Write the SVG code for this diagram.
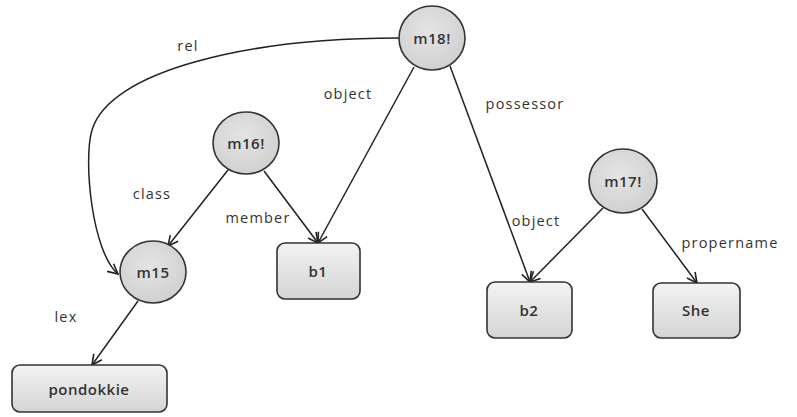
<svg xmlns="http://www.w3.org/2000/svg" width="797" height="417" viewBox="0 0 797 417">
<defs>
<radialGradient id="cg" cx="0.45" cy="0.4" r="0.65">
<stop offset="0" stop-color="#e4e4e4"/>
<stop offset="1" stop-color="#cfcfcf"/>
</radialGradient>
<linearGradient id="bg" x1="0" y1="0" x2="0" y2="1">
<stop offset="0" stop-color="#f3f3f3"/>
<stop offset="1" stop-color="#d4d4d4"/>
</linearGradient>
<marker id="arr" viewBox="0 0 12 12" refX="11" refY="6" markerWidth="12" markerHeight="12" markerUnits="userSpaceOnUse" orient="auto">
<path d="M1,1 L11,6 L1,11" fill="none" stroke="#222" stroke-width="1.6"/>
</marker>
</defs>
<style>
.n{fill:url(#cg);stroke:#333;stroke-width:1.6}
.b{fill:url(#bg);stroke:#333;stroke-width:1.6}
.t{font-family:"Open Sans","DejaVu Sans",sans-serif;font-size:15px;font-weight:600;fill:#333;text-anchor:middle;dominant-baseline:central;letter-spacing:0.5px}
.l{font-family:"Open Sans","DejaVu Sans",sans-serif;font-size:14.5px;fill:#333;text-anchor:middle;dominant-baseline:central;letter-spacing:1.2px}
.e{fill:none;stroke:#222;stroke-width:1.5;marker-end:url(#arr)}
</style>
<rect width="797" height="417" fill="#fff"/>
<g id="connectors">
<path class="e" d="M399,38 C250,38 110,70 92,130 C83,160 92,252 118,274"/>
<path class="e" d="M414,67 L318,243"/>
<path class="e" d="M450,66 L530,282"/>
<path class="e" d="M228,170 L168,246"/>
<path class="e" d="M264,171 L318,243"/>
<path class="e" d="M603,208 L530,282"/>
<path class="e" d="M642,209 L697,283"/>
<path class="e" d="M138,301 L92,365"/>
<text class="l" x="188" y="45">rel</text>
<text class="l" x="348" y="93">object</text>
<text class="l" x="525" y="103">possessor</text>
<text class="l" x="152" y="193">class</text>
<text class="l" x="258" y="217">member</text>
<text class="l" x="536" y="220">object</text>
<text class="l" x="730" y="242">propername</text>
<text class="l" x="66" y="316">lex</text>
</g>
<g id="m18"><ellipse class="n" cx="432" cy="38" rx="33" ry="32"/><text class="t" x="432" y="38">m18!</text></g>
<g id="m16"><ellipse class="n" cx="246" cy="143" rx="33" ry="31"/><text class="t" x="246" y="143">m16!</text></g>
<g id="m15"><ellipse class="n" cx="153" cy="272" rx="33" ry="31"/><text class="t" x="153" y="272">m15</text></g>
<g id="m17"><ellipse class="n" cx="623" cy="181" rx="34" ry="32"/><text class="t" x="623" y="181">m17!</text></g>
<g id="pondokkie"><rect class="b" x="12" y="365" width="155" height="47" rx="8"/><text class="t" x="89" y="389">pondokkie</text></g>
<g id="b1"><rect class="b" x="277" y="243" width="83" height="56" rx="8"/><text class="t" x="318" y="271">b1</text></g>
<g id="b2"><rect class="b" x="487" y="282" width="85" height="56" rx="8"/><text class="t" x="529" y="310">b2</text></g>
<g id="She"><rect class="b" x="653" y="283" width="87" height="55" rx="8"/><text class="t" x="696" y="310">She</text></g>
</svg>
